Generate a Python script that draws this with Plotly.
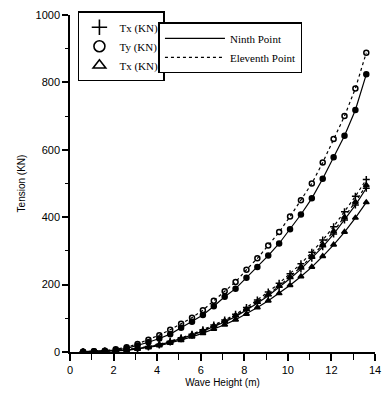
import plotly.graph_objects as go

wave_height = [0.6, 1.1, 1.6, 2.1, 2.6, 3.1, 3.6, 4.1, 4.6, 5.1, 5.6, 6.1, 6.6, 7.1,
               7.6, 8.1, 8.6, 9.1, 9.6, 10.1, 10.6, 11.1, 11.6, 12.1, 12.6, 13.1, 13.6]

ty_eleventh = [1, 2, 4, 8, 14, 24, 36, 50, 66, 84, 102, 124, 152, 180,
               208, 244, 278, 316, 356, 402, 450, 500, 562, 632, 700, 782, 888]
ty_ninth = [1, 2, 3, 6, 11, 19, 29, 40, 53, 72, 90, 110, 136, 164,
            188, 220, 252, 286, 322, 364, 408, 456, 514, 578, 642, 718, 824]
tx_eleventh = [0, 1, 2, 4, 7, 11, 16, 23, 32, 42, 53, 66, 80, 95,
               112, 132, 154, 178, 204, 232, 262, 296, 332, 372, 416, 462, 512]
tz_eleventh = [0, 1, 2, 4, 7, 10, 15, 22, 30, 40, 51, 63, 77, 92,
               108, 127, 148, 171, 196, 223, 252, 284, 319, 358, 400, 445, 495]
tx_ninth = [0, 1, 2, 3, 6, 10, 15, 21, 30, 39, 50, 62, 75, 89,
            105, 124, 145, 167, 192, 218, 246, 278, 312, 350, 392, 436, 486]
tz_ninth = [0, 1, 2, 3, 5, 9, 13, 19, 27, 35, 45, 56, 68, 81,
            96, 113, 132, 152, 174, 198, 224, 252, 284, 318, 356, 398, 444]

marker_labels = ["Tx (KN)", "Ty (KN)", "Tx (KN)"]
line_labels = ["Ninth Point", "Eleventh Point"]

BLACK = "black"
DASH = "3px,3px"

series = [
    (ty_eleventh, "circle-open", DASH),
    (ty_ninth, "circle", "solid"),
    (tx_eleventh, "cross-thin", DASH),
    (tz_eleventh, "triangle-up", DASH),
    (tx_ninth, "cross-thin", "solid"),
    (tz_ninth, "triangle-up", "solid"),
]

fig = go.Figure()
for ys, sym, dash in series:
    fig.add_trace(go.Scatter(
        x=wave_height, y=ys, mode="lines+markers", showlegend=False,
        line=dict(color=BLACK, width=1.2, dash=dash),
        marker=dict(symbol=sym, size=5, color=BLACK,
                    line=dict(color=BLACK, width=1.5)),
    ))

# marker legend
for sym, lab in zip(["cross-thin", "circle-open", "triangle-up-open"], marker_labels):
    fig.add_trace(go.Scatter(
        x=[None], y=[None], mode="markers", name=lab, legend="legend",
        marker=dict(symbol=sym, size=11, color=BLACK, line=dict(color=BLACK, width=1.6)),
    ))
# line legend
for dash, lab in zip(["solid", DASH], line_labels):
    fig.add_trace(go.Scatter(
        x=[None], y=[None], mode="lines", name=lab, legend="legend2",
        line=dict(color=BLACK, width=1.2, dash=dash),
    ))

serif = "Liberation Serif"
sans = "Liberation Sans"

fig.update_layout(
    width=386, height=402,
    margin=dict(l=70, r=5, t=15, b=50),
    paper_bgcolor="white", plot_bgcolor="white",
    legend=dict(x=0.026, y=1.011, xanchor="left", yanchor="top",
                bgcolor="white", bordercolor=BLACK, borderwidth=1.5,
                font=dict(family=serif, size=11, color=BLACK),
                itemwidth=30, tracegroupgap=0),
    legend2=dict(x=0.29, y=0.978, xanchor="left", yanchor="top",
                 bgcolor="white", bordercolor=BLACK, borderwidth=1.5,
                 font=dict(family=serif, size=11, color=BLACK),
                 itemwidth=60, tracegroupgap=0),
    xaxis=dict(range=[0, 14], tickmode="linear", tick0=0, dtick=2,
               showgrid=False, zeroline=False, showline=True, linecolor=BLACK, linewidth=1.5,
               ticks="outside", ticklen=7, tickwidth=1.5, tickcolor=BLACK,
               ticklabeloverflow="allow",
               minor=dict(dtick=1, ticks="outside", ticklen=6, tickwidth=1.2, tickcolor=BLACK),
               tickfont=dict(family=sans, size=11, color=BLACK),
               title=dict(text="Wave Height (m)", font=dict(family=sans, size=10, color=BLACK),
                          standoff=4)),
    yaxis=dict(range=[0, 1000], tickmode="linear", tick0=0, dtick=200,
               showgrid=False, zeroline=False, showline=True, linecolor=BLACK, linewidth=1.5,
               ticks="outside", ticklen=6, tickwidth=1.5, tickcolor=BLACK,
               minor=dict(dtick=100, ticks="outside", ticklen=3, tickwidth=1.2, tickcolor=BLACK),
               tickfont=dict(family=sans, size=11, color=BLACK),
               title=dict(text="Tension (KN)", font=dict(family=sans, size=10, color=BLACK),
                          standoff=8)),
)

fig.write_html("out.html")
